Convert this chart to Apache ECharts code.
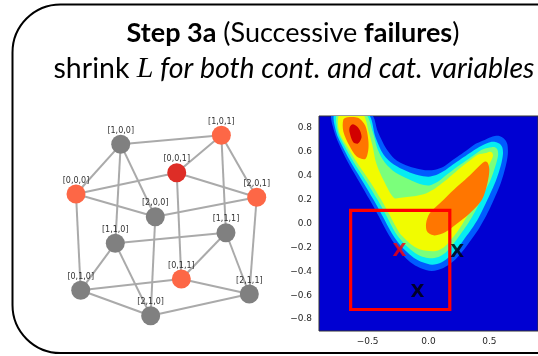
<!DOCTYPE html>
<html>
<head>
<meta charset="utf-8">
<script src="https://cdn.jsdelivr.net/npm/echarts@6/dist/echarts.min.js"></script>
<style>
  html, body { margin: 0; padding: 0; background: #fff; }
  #chart { width: 538px; height: 356px; }
</style>
</head>
<body>
<div id="chart"></div>
<script>
// ---- Search graph over categorical configurations ----
const nodeNames = ['[1,0,0]', '[1,0,1]', '[0,0,1]', '[0,0,0]', '[2,0,1]', '[2,0,0]',
                   '[1,1,1]', '[1,1,0]', '[0,1,1]', '[0,1,0]', '[2,1,1]', '[2,1,0]'];
// layout coordinates in [-1, 1]
const nodeX = [-0.506, 0.606, 0.113, -1.0, 0.997, -0.124, 0.657, -0.566, 0.164, -0.948, 0.915, -0.175];
const nodeY = [0.897, 0.997, 0.583, 0.348, 0.312, 0.097, -0.080, -0.197, -0.591, -0.716, -0.757, -0.997];
// 0 = untried, 1 = failed, 2 = current centre
const nodeStatus = [0, 1, 2, 1, 1, 0, 0, 0, 1, 0, 0, 0];
const edgePairs = [
  [0, 1], [0, 3], [0, 7], [0, 5], [1, 2], [1, 4], [1, 6], [2, 3], [2, 4], [2, 8],
  [3, 5], [3, 9], [5, 4], [5, 11], [4, 10], [7, 6], [7, 9], [7, 11], [6, 8], [6, 10],
  [8, 9], [8, 10], [9, 11], [11, 10]
];

// ---- Filled density contours (superlevel regions, lowest level first) ----
const bandBlue = [[-0.79,0.92],[-0.775,0.77],[-0.72,0.63],[-0.65,0.49],[-0.565,0.342],[-0.486,0.202],[-0.41,0.062],[-0.337,-0.078],[-0.285,-0.162],[-0.223,-0.246],[-0.149,-0.325],[-0.068,-0.373],[0.027,-0.398],[0.122,-0.373],[0.204,-0.317],[0.28,-0.232],[0.355,-0.129],[0.41,-0.05],[0.45,0.02],[0.50,0.118],[0.55,0.23],[0.595,0.342],[0.635,0.482],[0.652,0.58],[0.648,0.664],[0.625,0.706],[0.575,0.734],[0.527,0.728],[0.462,0.70],[0.391,0.669],[0.326,0.622],[0.255,0.571],[0.185,0.521],[0.12,0.473],[0.054,0.451],[-0.008,0.445],[-0.09,0.459],[-0.185,0.487],[-0.28,0.543],[-0.348,0.627],[-0.416,0.768],[-0.476,0.92]];
const bandCyan = [[-0.768,0.92],[-0.76,0.77],[-0.70,0.63],[-0.625,0.49],[-0.535,0.342],[-0.454,0.202],[-0.378,0.062],[-0.304,-0.078],[-0.253,-0.154],[-0.19,-0.227],[-0.122,-0.286],[-0.049,-0.325],[0.03,-0.345],[0.109,-0.325],[0.177,-0.275],[0.245,-0.199],[0.315,-0.101],[0.37,-0.022],[0.41,0.045],[0.457,0.14],[0.507,0.249],[0.553,0.356],[0.595,0.487],[0.612,0.58],[0.607,0.636],[0.585,0.667],[0.548,0.683],[0.505,0.681],[0.448,0.658],[0.386,0.622],[0.321,0.577],[0.253,0.529],[0.185,0.482],[0.122,0.437],[0.063,0.406],[0.0,0.392],[-0.082,0.403],[-0.177,0.437],[-0.285,0.493],[-0.37,0.577],[-0.435,0.72],[-0.50,0.92]];
const bandGreen = [[-0.747,0.92],[-0.745,0.77],[-0.68,0.63],[-0.60,0.49],[-0.505,0.342],[-0.421,0.202],[-0.345,0.062],[-0.272,-0.078],[-0.22,-0.146],[-0.16,-0.207],[-0.098,-0.255],[-0.033,-0.283],[0.033,-0.291],[0.095,-0.275],[0.152,-0.232],[0.212,-0.162],[0.277,-0.07],[0.329,0.006],[0.368,0.073],[0.413,0.16],[0.46,0.263],[0.51,0.364],[0.552,0.487],[0.572,0.571],[0.568,0.616],[0.55,0.636],[0.52,0.639],[0.448,0.622],[0.394,0.588],[0.332,0.543],[0.266,0.496],[0.201,0.448],[0.136,0.398],[0.073,0.347],[0.005,0.319],[-0.071,0.331],[-0.163,0.37],[-0.272,0.426],[-0.359,0.51],[-0.418,0.622],[-0.457,0.762],[-0.522,0.92]];
const bandYellow = [[-0.728,0.92],[-0.735,0.77],[-0.66,0.63],[-0.575,0.49],[-0.475,0.342],[-0.391,0.202],[-0.315,0.062],[-0.242,-0.073],[-0.188,-0.134],[-0.13,-0.185],[-0.068,-0.218],[0.033,-0.232],[0.082,-0.224],[0.136,-0.19],[0.19,-0.129],[0.245,-0.056],[0.291,0.017],[0.335,0.095],[0.375,0.196],[0.42,0.308],[0.47,0.42],[0.508,0.51],[0.53,0.566],[0.522,0.594],[0.50,0.60],[0.475,0.59],[0.408,0.577],[0.353,0.538],[0.288,0.487],[0.223,0.431],[0.158,0.375],[0.095,0.325],[0.033,0.28],[-0.033,0.246],[-0.103,0.23],[-0.177,0.221],[-0.245,0.213],[-0.277,0.21],[-0.313,0.252],[-0.353,0.328],[-0.397,0.42],[-0.435,0.524],[-0.46,0.65],[-0.49,0.762],[-0.545,0.92]];
const bandOrangeUpper = [[-0.70,0.87],[-0.665,0.89],[-0.58,0.885],[-0.52,0.82],[-0.495,0.70],[-0.495,0.615],[-0.52,0.54],[-0.59,0.56],[-0.65,0.65],[-0.70,0.77]];
const bandOrangeLower = [[-0.01,-0.07],[0.05,-0.10],[0.14,-0.072],[0.23,-0.005],[0.34,0.085],[0.44,0.2],[0.485,0.342],[0.50,0.45],[0.485,0.51],[0.46,0.518],[0.415,0.48],[0.32,0.385],[0.21,0.285],[0.10,0.175],[0.01,0.085],[-0.02,0.0]];
const bandRed = [[-0.646,0.81],[-0.62,0.83],[-0.573,0.796],[-0.55,0.725],[-0.58,0.67],[-0.62,0.683],[-0.65,0.77]];

const contourRegions = [bandBlue, bandCyan, bandGreen, bandYellow, bandOrangeUpper, bandOrangeLower, bandRed];
const contourColors = ['#005bff', '#06edf1', '#7bff7b', '#f1fc00', '#ff7600', '#ff7600', '#d20000'];
const floorColor = '#0000d2';

// trust region [x0, y0, x1, y1]
const trustRegion = [-0.64, -0.72, 0.175, 0.11];

// sampled points
const sampleX = [-0.239, 0.236, -0.09];
const sampleY = [-0.232, -0.241, -0.577];
const sampleColor = ['#ff0000', '#000000', '#000000'];

const xTicks = [-0.5, 0.0, 0.5];
const yTicks = [-0.8, -0.6, -0.4, -0.2, 0.0, 0.2, 0.4, 0.6, 0.8];

const fmtTick = v => (v < 0 ? '\u2212' : '') + Math.abs(v).toFixed(1);

const chart = echarts.init(document.getElementById('chart'), null, { renderer: 'canvas' });

const statusColor = ['#808080', '#fd6746', '#de2d26'];

const option = {
  animation: false,
  backgroundColor: '#ffffff',
  graphic: [
    {
      type: 'rect', z: 0,
      shape: { x: 12.5, y: 4.5, width: 640, height: 348.5, r: 48 },
      style: { fill: 'none', stroke: '#000', lineWidth: 2 }
    },
    {
      type: 'text', x: 293, y: 33, z: 10,
      style: {
        text: '{b|Step 3a}{n| (Successive }{b|failures}{n|)}',
        align: 'center', verticalAlign: 'middle',
        rich: {
          b: { fontFamily: 'Lato', fontWeight: 'bold', fontSize: 27, fill: '#000' },
          n: { fontFamily: 'Lato', fontSize: 27, fill: '#000' }
        }
      }
    },
    {
      type: 'text', x: 294, y: 69, z: 10,
      style: {
        text: '{n|shrink }{m|L}{i| for both cont. and cat. variables}',
        align: 'center', verticalAlign: 'middle',
        rich: {
          n: { fontFamily: 'Lato', fontSize: 28.5, fill: '#000' },
          m: { fontFamily: 'Liberation Serif', fontStyle: 'italic', fontSize: 30, fill: '#000' },
          i: { fontFamily: 'Lato', fontStyle: 'italic', fontSize: 28.5, fill: '#000' }
        }
      }
    }
  ],
  grid: [
    { left: 76, top: 135, width: 181, height: 181, show: false },
    { left: 319, top: 116, width: 221, height: 215, show: true,
      backgroundColor: floorColor, borderColor: '#333', borderWidth: 1, z: 5 }
  ],
  xAxis: [
    { gridIndex: 0, type: 'value', min: -1, max: 1, show: false },
    { gridIndex: 1, type: 'value', min: -0.9, max: 0.9,
      axisLine: { show: false }, splitLine: { show: false },
      axisTick: { show: true, length: 3.5, customValues: xTicks, lineStyle: { color: '#333', width: 1 } },
      axisLabel: { customValues: xTicks, formatter: fmtTick, margin: 6,
        fontFamily: 'DejaVu Sans', fontSize: 9, color: '#262626' } }
  ],
  yAxis: [
    { gridIndex: 0, type: 'value', min: -1, max: 1, show: false },
    { gridIndex: 1, type: 'value', min: -0.9, max: 0.9,
      axisLine: { show: false }, splitLine: { show: false },
      axisTick: { show: true, length: 3.5, customValues: yTicks, lineStyle: { color: '#333', width: 1 } },
      axisLabel: { customValues: yTicks, formatter: fmtTick, margin: 7,
        fontFamily: 'DejaVu Sans', fontSize: 9, color: '#262626' } }
  ],
  series: [
    {
      type: 'graph',
      coordinateSystem: 'cartesian2d',
      xAxisIndex: 0, yAxisIndex: 0,
      symbolSize: 19,
      z: 3,
      data: nodeNames.map((n, i) => ({
        name: n,
        value: [nodeX[i], nodeY[i]],
        itemStyle: { color: statusColor[nodeStatus[i]] }
      })),
      links: edgePairs.map(p => ({ source: p[0], target: p[1] })),
      lineStyle: { color: '#aaaaaa', width: 2, opacity: 1, curveness: 0 },
      label: {
        show: true, position: 'top', distance: 0, formatter: '{b}',
        fontFamily: 'DejaVu Sans', fontSize: 8, color: '#333'
      },
      emphasis: { disabled: true }
    },
    {
      type: 'custom',
      xAxisIndex: 1, yAxisIndex: 1,
      clip: true,
      z: 6,
      data: contourRegions.map(() => [0, 0]),
      renderItem: (params, api) => {
        const pts = contourRegions[params.dataIndex].map(p => api.coord(p));
        return {
          type: 'polygon',
          shape: { points: pts, smooth: 0.3 },
          style: { fill: contourColors[params.dataIndex], stroke: null }
        };
      }
    },
    {
      type: 'custom',
      xAxisIndex: 1, yAxisIndex: 1,
      clip: true,
      z: 7,
      encode: { x: [0, 2], y: [1, 3] },
      data: [trustRegion],
      renderItem: (params, api) => {
        const a = api.coord([api.value(0), api.value(1)]);
        const b = api.coord([api.value(2), api.value(3)]);
        return {
          type: 'rect',
          shape: { x: a[0], y: b[1], width: b[0] - a[0], height: a[1] - b[1] },
          style: { fill: 'none', stroke: '#ff0000', lineWidth: 3.2 }
        };
      }
    },
    {
      type: 'scatter',
      xAxisIndex: 1, yAxisIndex: 1,
      z: 8,
      symbolSize: 0,
      data: sampleX.map((x, i) => ({
        value: [x, sampleY[i]],
        label: { color: sampleColor[i] }
      })),
      label: {
        show: true, position: 'inside', formatter: 'X',
        fontFamily: 'DejaVu Sans', fontWeight: 'bold', fontSize: 18
      },
      emphasis: { disabled: true }
    }
  ]
};

chart.setOption(option);
</script>
</body>
</html>
